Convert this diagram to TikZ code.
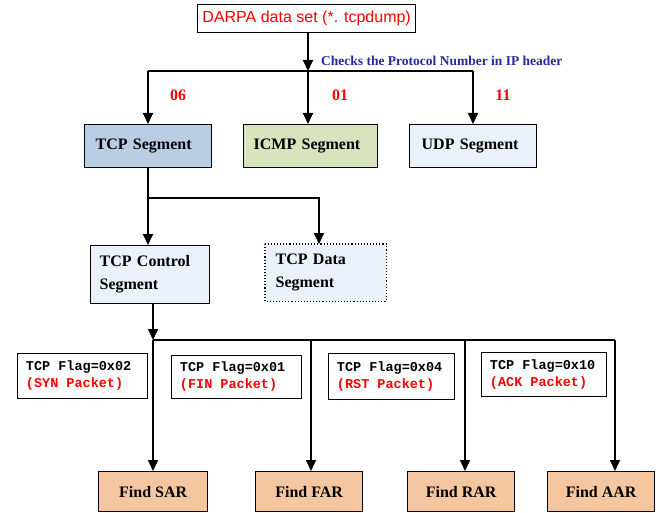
\documentclass[tikz,border=0pt]{standalone}
\usepackage{fontspec}
\setmainfont{Liberation Serif}
\newfontfamily\arialfont{Liberation Sans}
\newfontfamily\monofont{Liberation Mono}[WordSpace={1,0,0}]
\usetikzlibrary{arrows.meta}
\definecolor{tcpblue}{RGB}{185,205,229}
\definecolor{icmpgreen}{RGB}{215,228,189}
\definecolor{lightblue}{RGB}{235,241,250}
\definecolor{peach}{RGB}{245,199,160}
\definecolor{labelblue}{RGB}{40,40,160}
\definecolor{pured}{RGB}{255,0,0}
\newcommand{\msp}{\hspace{0.6em}}
\begin{document}
\begin{tikzpicture}[x=1pt,y=-1pt,
  boxbase/.style={draw, line width=1.3pt, inner ysep=0pt, anchor=north west,
     font=\bfseries\fontsize{16}{23}\selectfont},
  lbox/.style={boxbase, align=left, inner xsep=11pt},
  findbox/.style={boxbase, fill=peach, align=center, inner xsep=0pt,
     minimum width=107pt, minimum height=40pt},
  flagbox/.style={draw, line width=0.9pt, anchor=north west, align=left,
     inner xsep=8.5pt, inner ysep=0pt, minimum height=45pt,
     font=\monofont\bfseries\fontsize{13.5}{17}\selectfont},
  numlbl/.style={text=pured, font=\bfseries\fontsize{16}{19}\selectfont, anchor=base, inner sep=0pt},
  thick line/.style={line width=1.8pt},
  thin line/.style={line width=1.2pt},
  arr/.style={-{Triangle[length=11pt,width=10pt]}},
]
\useasboundingbox (0,0) rectangle (663,513);

% top box
\node[draw, line width=1.3pt, anchor=north west, minimum width=218pt, minimum height=28pt,
      inner sep=0pt, text=pured, font=\arialfont\fontsize{16}{19}\selectfont]
      (darpa) at (197,4) {DARPA data set (*. tcpdump)};

% level 1 boxes
\node[lbox, fill=tcpblue, minimum width=127pt, text width=105pt, minimum height=43pt]
      (tcp) at (84,124) {TCP Segment};
\node[lbox, fill=icmpgreen, minimum width=134pt, minimum height=43pt, inner xsep=10pt, text width=114pt]
      (icmp) at (243,124) {ICMP Segment};
\node[lbox, fill=lightblue, minimum width=127pt, text width=103pt, minimum height=43pt, inner xsep=12pt]
      (udp) at (409,124) {UDP Segment};

% level 2 boxes
\node[lbox, fill=lightblue, minimum width=119pt, text width=101pt, inner xsep=9pt, minimum height=58pt]
      (ctrl) at (90,245) {TCP Control\\Segment};
\node[lbox, draw=none, fill=lightblue, minimum width=120pt, text width=100pt, inner xsep=10pt, minimum height=56pt]
      (data) at (265,244) {TCP Data\\Segment};
\draw[line width=1.1pt, dotted] (data.north west) rectangle (data.south east);

% flag boxes
\node[flagbox, text width=113pt] (syn) at (17,353) {TCP\msp Flag=0x02\\\textcolor{pured}{(SYN\msp Packet)}};
\node[flagbox, text width=113pt, minimum height=43pt] (fin) at (171,355) {TCP\msp Flag=0x01\\\textcolor{pured}{(FIN\msp Packet)}};
\node[flagbox, text width=109pt, minimum height=46pt] (rst) at (328,353) {TCP\msp Flag=0x04\\\textcolor{pured}{(RST\msp Packet)}};
\node[flagbox, text width=108pt, minimum height=44pt] (ack) at (481,352) {TCP\msp Flag=0x10\\\textcolor{pured}{(ACK\msp Packet)}};

% find boxes
\node[findbox, minimum width=109pt] (sar) at (98,471) {Find SAR};
\node[findbox] (far) at (255,471) {Find FAR};
\node[findbox] (rar) at (407,471) {Find RAR};
\node[findbox] (aar) at (547,471) {Find AAR};

% labels
\node[anchor=base west, inner sep=0pt, text=labelblue, font=\bfseries\fontsize{13.5}{16}\selectfont]
      (checks) at (321,66) {Checks the Protocol Number in IP header};
\node[numlbl] (n06) at (178,101) {06};
\node[numlbl] (n01) at (340,101) {01};
\node[numlbl] (n11) at (503,101) {11};

% coordinates
\coordinate (hub) at (308,71);
\coordinate (hl) at (148,71);
\coordinate (hr) at (473,71);
\coordinate (t1) at (148,198);
\coordinate (t2) at (319,198);
\coordinate (b1) at (153,340);
\coordinate (b2) at (311,340);
\coordinate (b3) at (465,340);
\coordinate (b4) at (615,340);

% connectors upper
\draw[thick line, arr] (hub |- darpa.south) -- (hub);
\draw[thick line] (hl) -- (hr);
\draw[thick line, arr] (hl) -- (hl |- tcp.north);
\draw[thick line, arr] (hub) -- (hub |- icmp.north);
\draw[thick line, arr] (hr) -- (hr |- udp.north);

% TCP branch
\draw[thick line, arr] (t1 |- tcp.south) -- (t1 |- ctrl.north);
\draw[thick line, arr] (t1) -- (t2) -- (t2 |- data.north);

% control bus
\draw[thin line, arr] (b1 |- ctrl.south) -- (b1);
\draw[thin line] (b1) -- (b4);
\draw[thin line, arr] (b1) -- (b1 |- sar.north);
\draw[thin line, arr] (b2) -- (b2 |- far.north);
\draw[thin line, arr] (b3) -- (b3 |- rar.north);
\draw[thin line, arr] (b4) -- (b4 |- aar.north);
\end{tikzpicture}
\end{document}
